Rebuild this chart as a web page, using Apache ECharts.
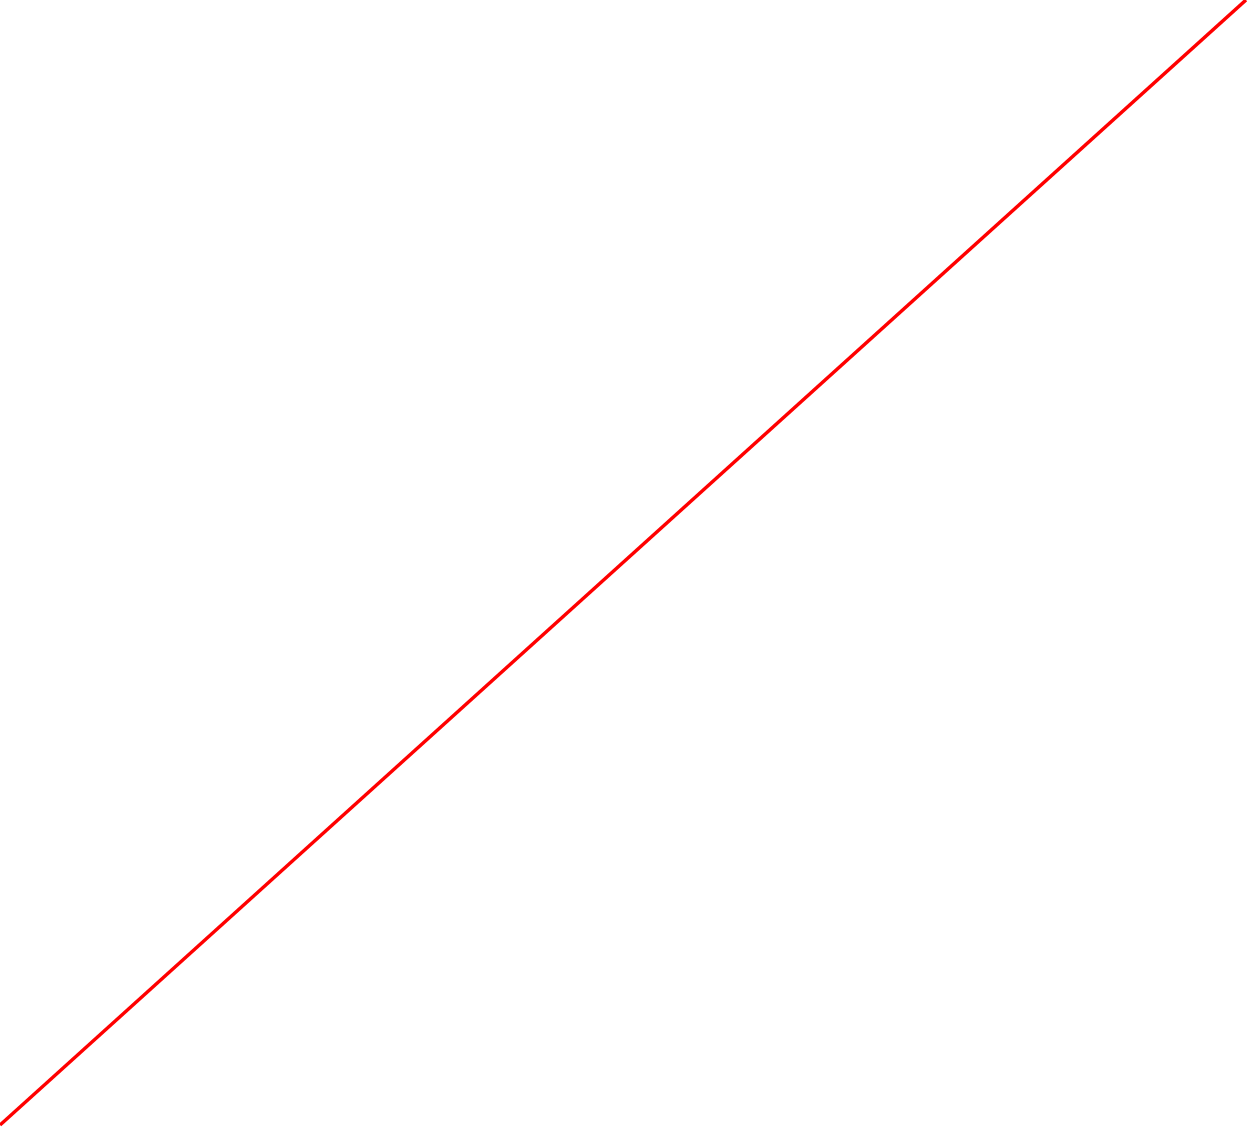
<!DOCTYPE html>
<html>
<head>
<meta charset="utf-8">
<script src="https://cdn.jsdelivr.net/npm/echarts@6/dist/echarts.min.js"></script>
<style>
  html, body { margin: 0; padding: 0; background: #fff; }
  #main { width: 1248px; height: 1128px; }
</style>
</head>
<body>
<div id="main"></div>
<script>
// data
const xValues = [0, 1];
const yValues = [0, 1];

let myChart = echarts.init(document.getElementById('main'));

option = {
    backgroundColor: '#ffffff',
    animation: false,
    grid: { left: 0, right: 2, top: 0, bottom: 3 },
    xAxis: { type: 'value', min: 0, max: 1, show: false },
    yAxis: { type: 'value', min: 0, max: 1, show: false },
    series: [
        {
            type: 'line',
            data: xValues.map((x, i) => [x, yValues[i]]),
            symbol: 'none',
            clip: false,
            lineStyle: { color: '#ff0000', width: 3.5 }
        }
    ]
};

myChart.setOption(option);
</script>
</body>
</html>
